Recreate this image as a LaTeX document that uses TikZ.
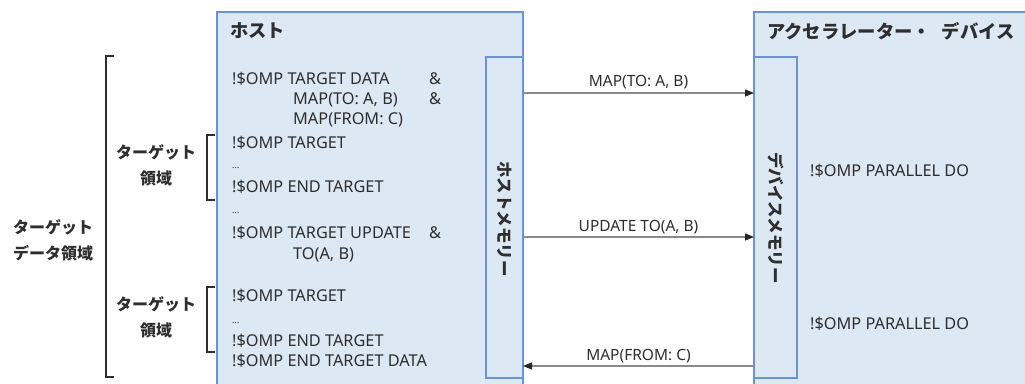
\documentclass[tikz,border=0pt]{standalone}
\usepackage{fontspec}
\setmainfont{Noto Sans}
\newfontfamily\jp{Noto Sans CJK JP}
\usetikzlibrary{arrows.meta}
\definecolor{boxfill}{HTML}{DDE8F5}
\definecolor{boxline}{HTML}{6C92D2}
\definecolor{txt}{HTML}{2E2E2E}
\definecolor{arrline}{HTML}{8A8A8A}
\tikzset{
  panel/.style={draw=boxline, fill=boxfill, line width=1.3pt, inner sep=0pt, outer sep=0pt, anchor=north west},
  code/.style={anchor=base west, inner sep=0pt, text=txt, font=\fontsize{16.3}{18}\selectfont},
  dots/.style={anchor=base west, inner sep=0pt, text=txt, font=\fontsize{9}{10}\selectfont},
  title/.style={anchor=base west, inner sep=0pt, text=txt, font=\jp\bfseries\fontsize{18.3}{20}\selectfont},
  jplabel/.style={inner sep=0pt, text=txt, align=center, font=\jp\bfseries\fontsize{16}{26}\selectfont},
  memlabel/.style={inner sep=0pt, text=txt, rotate=-90, font=\jp\bfseries\fontsize{16.5}{18}\selectfont},
  flow/.style={draw=arrline, line width=1.2pt, -{Triangle[length=9pt,width=7pt,color=black!85]}},
  flowlabel/.style={inner sep=0pt, text=txt, anchor=base, font=\fontsize{15.5}{17}\selectfont},
  bracket/.style={draw=txt, line width=1.5pt}
}
\begin{document}
\begin{tikzpicture}[x=1pt,y=-1pt]
\clip (0,0) rectangle (1025,383);
\fill[white] (0,0) rectangle (1025,383);
% panels
\node[panel, minimum width=306pt, minimum height=400pt] (host) at (217,12) {};
\node[panel, minimum width=300pt, minimum height=400pt] (dev) at (754,12) {};
\node[panel, minimum width=37pt, minimum height=321pt] (hmem) at (486,57) {};
\node[panel, minimum width=43pt, minimum height=321pt] (dmem) at (754,57) {};
% titles
\node[title] (thost) at (230,37) {ホスト};
\node[title] (tdev) at (767,38) {アクセラレーター・\hspace{11pt}デバイス};
% memory labels
\node[memlabel] (lhmem) at (504.5,219) {ホストメモリー};
\node[memlabel] (ldmem) at (775.5,218) {デバイスメモリー};
% host code
\node[code] (c1) at (232,84) {!\$OMP TARGET DATA};
\node[code] (a1) at (429,84) {\&};
\node[code] (c2) at (293,104) {MAP(TO: A, B)};
\node[code] (a2) at (429,104) {\&};
\node[code] (c3) at (293,124) {MAP(FROM: C)};
\node[code] (c4) at (232,148) {!\$OMP TARGET};
\node[dots] (d1) at (232,168) {...};
\node[code] (c5) at (232,192) {!\$OMP END TARGET};
\node[dots] (d2) at (232,213) {...};
\node[code] (c6) at (232,238) {!\$OMP TARGET UPDATE};
\node[code] (a3) at (429,238) {\&};
\node[code] (c7) at (293,259) {TO(A, B)};
\node[code] (c8) at (232,301) {!\$OMP TARGET};
\node[dots] (d3) at (232,323) {...};
\node[code] (c9) at (232,346) {!\$OMP END TARGET};
\node[code] (c10) at (232,366) {!\$OMP END TARGET DATA};
% device code
\node[code] (p1) at (810,176) {!\$OMP PARALLEL DO};
\node[code] (p2) at (810,329) {!\$OMP PARALLEL DO};
% arrows
\draw[flow] (hmem.east |- 0,93) -- (dmem.west |- 0,93);
\draw[flow] (hmem.east |- 0,237) -- (dmem.west |- 0,237);
\draw[flow] (dmem.west |- 0,366) -- (hmem.east |- 0,366);
\node[flowlabel] (f1) at (638.5,86) {MAP(TO: A, B)};
\node[flowlabel] (f2) at (638.5,231) {UPDATE TO(A, B)};
\node[flowlabel] (f3) at (638.5,360) {MAP(FROM: C)};
% brackets
\draw[bracket] (114,56) -- (106,56) -- (106,377) -- (114,377);
\draw[bracket] (215,135) -- (207,135) -- (207,200) -- (215,200);
\draw[bracket] (215,287) -- (207,287) -- (207,352) -- (215,352);
% left labels
\node[jplabel] (r1) at (156,165) {ターゲット\\領域};
\node[jplabel] (r2) at (156,317) {ターゲット\\領域};
\node[jplabel] (r3) at (53,240) {ターゲット\\データ領域};
\end{tikzpicture}
\end{document}
